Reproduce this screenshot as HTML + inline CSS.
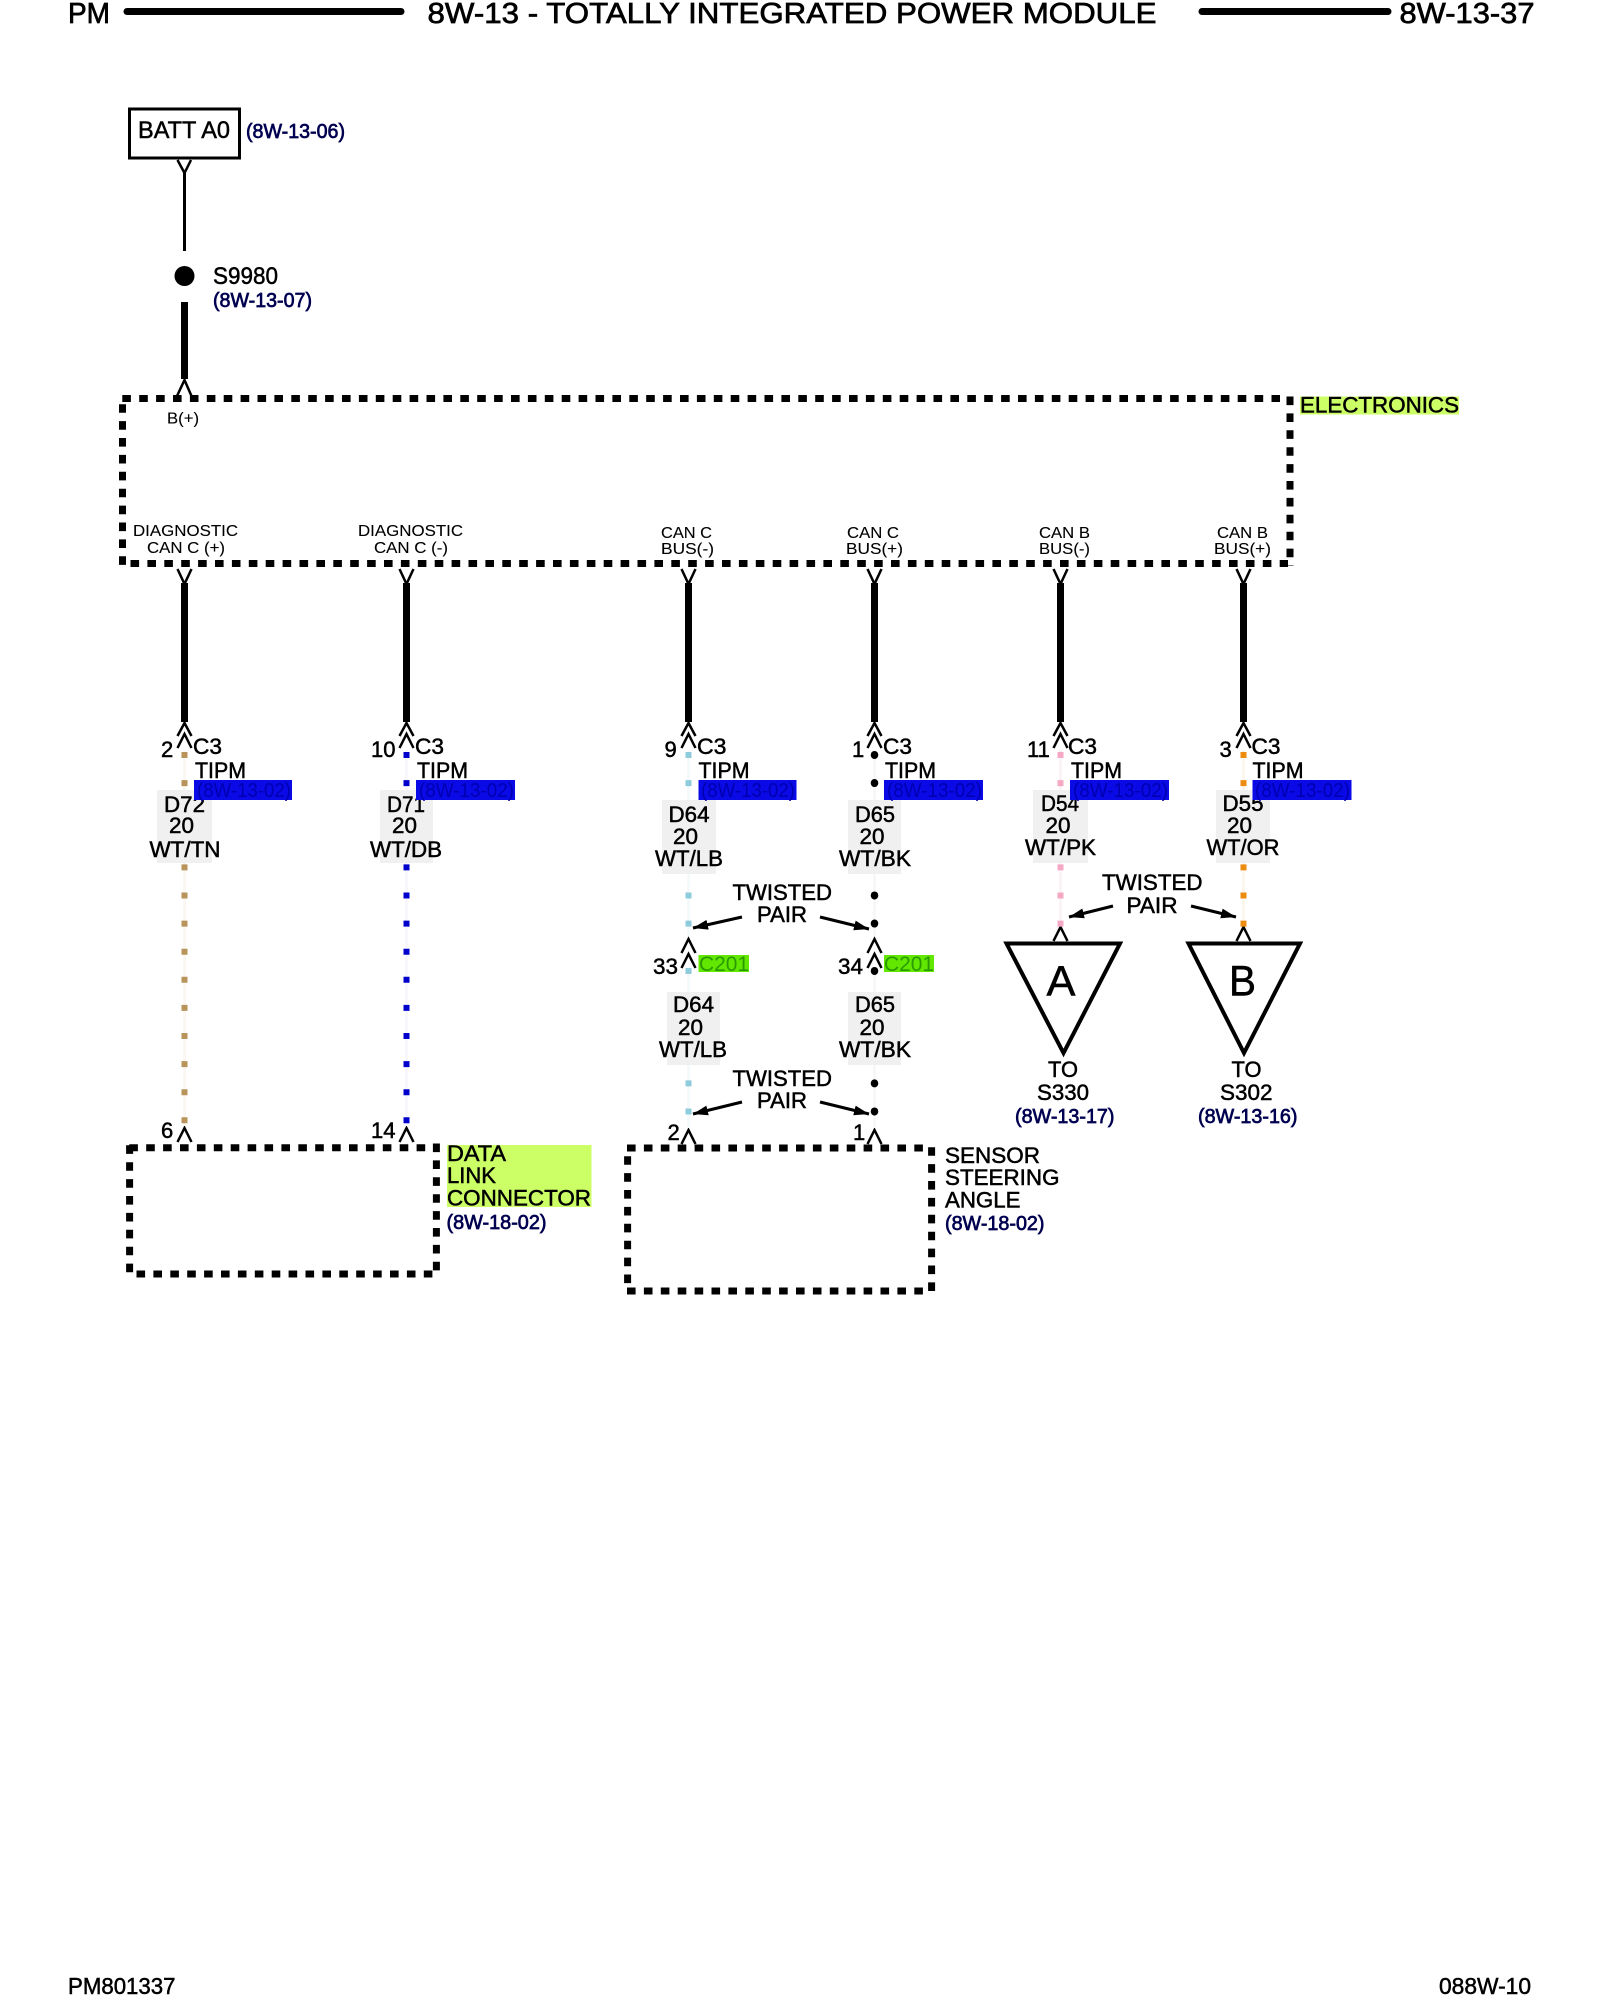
<!DOCTYPE html>
<html><head><meta charset="utf-8"><title>8W-13-37</title>
<style>
html,body{margin:0;padding:0;background:#fff}
svg{display:block}
text{font-family:"Liberation Sans",sans-serif;font-size:22px;fill:#000;stroke:#000;stroke-width:.5}
.h{font-size:29px;stroke-width:.7}.s{font-size:16px;stroke-width:.1}.n{font-size:20px;fill:#000050;stroke:#000050;stroke-width:.7}
.b{font-size:20px;fill:#0000b0;stroke:none}.g{fill:#f0f0f0}.bl{fill:#0a0ae6}.hl{fill:#ccff66}.gr{fill:#62e800}
.c{font-size:21px;fill:#2a9a00;stroke:none}
.v{fill:none;stroke:#000;stroke-width:2.5}
.w{stroke:#000;stroke-width:7;stroke-linecap:round;fill:none}
.d{stroke:#000;stroke-width:7;stroke-dasharray:8.6 8.3;stroke-dashoffset:-.5;fill:none}
.f{stroke-width:2.5;fill:none}
.o{stroke-width:6;stroke-dasharray:6 22.1;fill:none}
.k{stroke-width:7.5;stroke-dasharray:.5 27.6;stroke-linecap:round;fill:none}
.a{stroke:#000;stroke-width:3;fill:none;marker-end:url(#ah)}
</style></head><body>
<svg width="1600" height="2000" viewBox="0 0 1600 2000" xmlns="http://www.w3.org/2000/svg">
<defs><marker id="ah" markerUnits="userSpaceOnUse" markerWidth="18" markerHeight="12" refX="15" refY="5" orient="auto"><path d="M0 0L15 5L0 10Z" fill="#000"/></marker></defs>
<rect width="1600" height="2000" fill="#fff"/>

<!-- header -->
<text class="h" x="68" y="23" textLength="42" lengthAdjust="spacingAndGlyphs">PM</text>
<path class="w" d="M127 11.5H401M1202 11.5H1388"/>
<text class="h" x="427.5" y="23" textLength="729" lengthAdjust="spacingAndGlyphs">8W-13 - TOTALLY INTEGRATED POWER MODULE</text>
<text class="h" x="1399.5" y="23" textLength="135" lengthAdjust="spacingAndGlyphs">8W-13-37</text>

<!-- battery -->
<rect x="129.5" y="109" width="110" height="49" fill="none" stroke="#000" stroke-width="3"/>
<text x="138" y="138" style="font-size:24px" textLength="92" lengthAdjust="spacingAndGlyphs">BATT A0</text>
<text class="n" x="246" y="138" textLength="99" lengthAdjust="spacingAndGlyphs">(8W-13-06)</text>
<path class="v" d="M177.5 160L184.5 173L191 160"/>
<path d="M184.5 173V251" stroke="#000" stroke-width="3" fill="none"/>
<ellipse cx="184.5" cy="276" rx="10" ry="10" fill="#000"/>
<text x="213" y="284" style="font-size:24px" textLength="65" lengthAdjust="spacingAndGlyphs">S9980</text>
<text class="n" x="213" y="307" textLength="99" lengthAdjust="spacingAndGlyphs">(8W-13-07)</text>
<path d="M184.5 302V379" stroke="#000" stroke-width="7" fill="none"/>
<path class="v" d="M177 396L184.5 380L191.5 396"/>

<!-- electronics box -->
<path class="d" d="M121.8 398.5H1280"/>
<path class="d" d="M122.5 403.7V568"/>
<path class="d" d="M130 563.5H1288"/>
<path class="d" d="M1290 396V566"/>
<rect class="hl" x="1300" y="396.5" width="159" height="18"/>
<text x="1300" y="412.5" textLength="159" lengthAdjust="spacingAndGlyphs">ELECTRONICS</text>
<text class="s" x="167" y="423.5" textLength="32" lengthAdjust="spacingAndGlyphs">B(+)</text>
<text class="s" x="133" y="536" textLength="105" lengthAdjust="spacingAndGlyphs">DIAGNOSTIC</text>
<text class="s" x="147" y="553" textLength="78" lengthAdjust="spacingAndGlyphs">CAN C (+)</text>
<text class="s" x="358" y="536" textLength="105" lengthAdjust="spacingAndGlyphs">DIAGNOSTIC</text>
<text class="s" x="374" y="553" textLength="74" lengthAdjust="spacingAndGlyphs">CAN C (-)</text>
<text class="s" x="661" y="538" textLength="51" lengthAdjust="spacingAndGlyphs">CAN C</text>
<text class="s" x="661" y="554" textLength="53" lengthAdjust="spacingAndGlyphs">BUS(-)</text>
<text class="s" x="847" y="538" textLength="52" lengthAdjust="spacingAndGlyphs">CAN C</text>
<text class="s" x="846" y="554" textLength="57" lengthAdjust="spacingAndGlyphs">BUS(+)</text>
<text class="s" x="1039" y="538" textLength="51" lengthAdjust="spacingAndGlyphs">CAN B</text>
<text class="s" x="1039" y="554" textLength="51" lengthAdjust="spacingAndGlyphs">BUS(-)</text>
<text class="s" x="1217" y="538" textLength="51" lengthAdjust="spacingAndGlyphs">CAN B</text>
<text class="s" x="1214" y="554" textLength="57" lengthAdjust="spacingAndGlyphs">BUS(+)</text>

<!-- thick wires & connectors -->
<g fill="none" stroke="#000">
<path stroke-width="7" d="M184.5 583V722M406.5 583V722M688.5 583V722M874.5 583V722M1060.5 583V722M1243.5 583V722"/>
<g stroke-width="2.5">
<path d="M177.5 569L184.5 584L191.5 569M177.5 736L184.5 723L191.5 736M177.5 748L184.5 734L191.5 748M177.5 1142L184.5 1128L191.5 1142"/>
<path d="M399.5 569L406.5 584L413.5 569M399.5 736L406.5 723L413.5 736M399.5 748L406.5 734L413.5 748M399.5 1142L406.5 1128L413.5 1142"/>
<path d="M681.5 569L688.5 584L695.5 569M681.5 736L688.5 723L695.5 736M681.5 748L688.5 734L695.5 748M681.5 953L688.5 939L695.5 953M681.5 968L688.5 954L695.5 968M681.5 1144L688.5 1130L695.5 1144"/>
<path d="M867.5 569L874.5 584L881.5 569M867.5 736L874.5 723L881.5 736M867.5 748L874.5 734L881.5 748M867.5 953L874.5 939L881.5 953M867.5 968L874.5 954L881.5 968M867.5 1144L874.5 1130L881.5 1144"/>
<path d="M1053.5 569L1060.5 584L1067.5 569M1053.5 736L1060.5 723L1067.5 736M1053.5 748L1060.5 734L1067.5 748M1053.5 941L1060.5 927L1067.5 941"/>
<path d="M1236.5 569L1243.5 584L1250.5 569M1236.5 736L1243.5 723L1250.5 736M1236.5 748L1243.5 734L1250.5 748M1236.5 941L1243.5 927L1250.5 941"/>
</g></g>

<!-- faint wires -->
<path class="f" stroke="#faf6f0" d="M184.5 750V1126"/>
<path class="f" stroke="#f6f6fc" d="M406.5 750V1126"/>
<path class="f" stroke="#f3f8fa" d="M688.5 750V936M688.5 968V1128"/>
<path class="f" stroke="#f6f6f6" d="M874.5 750V936M874.5 968V1128"/>
<path class="f" stroke="#fcf2f5" d="M1060.5 750V926"/>
<path class="f" stroke="#fcf5ea" d="M1243.5 750V926"/>
<!-- dots -->
<path class="o" stroke="#b8935a" d="M184.5 752V1126"/>
<path class="o" stroke="#0000cc" d="M406.5 752V1126"/>
<path class="o" stroke="#8ecbdc" d="M688.5 752V928M688.5 968V1116"/>
<path class="k" stroke="#000" d="M874.5 754.7V928M874.5 970.7V1116"/>
<path class="o" stroke="#f4a8c4" d="M1060.5 752V928"/>
<path class="o" stroke="#ee8c10" d="M1243.5 752V928"/>

<!-- gray label backgrounds -->
<rect class="g" x="157" y="790" width="55" height="73"/>
<rect class="g" x="380" y="790" width="53" height="73"/>
<rect class="g" x="662" y="800" width="54" height="74"/>
<rect class="g" x="848" y="800" width="53" height="74"/>
<rect class="g" x="1033" y="790" width="55" height="73"/>
<rect class="g" x="1216" y="790" width="54" height="73"/>
<rect class="g" x="667" y="992" width="53" height="73"/>
<rect class="g" x="848" y="992" width="53" height="73"/>

<!-- column 1 -->
<text x="161" y="757">2</text>
<text x="193" y="754" textLength="29" lengthAdjust="spacingAndGlyphs">C3</text>
<text x="195" y="778" textLength="51" lengthAdjust="spacingAndGlyphs">TIPM</text>
<text x="164" y="812" textLength="41" lengthAdjust="spacingAndGlyphs">D72</text>
<text x="169" y="833" textLength="25" lengthAdjust="spacingAndGlyphs">20</text>
<text x="149.5" y="857" textLength="71" lengthAdjust="spacingAndGlyphs">WT/TN</text>
<text x="161" y="1138">6</text>
<!-- column 2 -->
<text x="371" y="757">10</text>
<text x="415" y="754" textLength="29" lengthAdjust="spacingAndGlyphs">C3</text>
<text x="417" y="778" textLength="51" lengthAdjust="spacingAndGlyphs">TIPM</text>
<text x="387" y="812" textLength="38" lengthAdjust="spacingAndGlyphs">D71</text>
<text x="392" y="833" textLength="25" lengthAdjust="spacingAndGlyphs">20</text>
<text x="370" y="857" textLength="72" lengthAdjust="spacingAndGlyphs">WT/DB</text>
<text x="371" y="1138">14</text>
<!-- column 3 -->
<text x="664.5" y="757">9</text>
<text x="697" y="754" textLength="29.5" lengthAdjust="spacingAndGlyphs">C3</text>
<text x="698.5" y="778" textLength="51" lengthAdjust="spacingAndGlyphs">TIPM</text>
<text x="668.5" y="822" textLength="41" lengthAdjust="spacingAndGlyphs">D64</text>
<text x="673" y="844" textLength="25" lengthAdjust="spacingAndGlyphs">20</text>
<text x="655" y="866" textLength="68" lengthAdjust="spacingAndGlyphs">WT/LB</text>
<text x="653" y="974" textLength="25" lengthAdjust="spacingAndGlyphs">33</text>
<rect class="gr" x="698.5" y="955" width="50.5" height="17"/>
<text class="c" x="699" y="971" textLength="50" lengthAdjust="spacingAndGlyphs">C201</text>
<text x="673" y="1012" textLength="41" lengthAdjust="spacingAndGlyphs">D64</text>
<text x="678" y="1035" textLength="25" lengthAdjust="spacingAndGlyphs">20</text>
<text x="659" y="1057" textLength="68" lengthAdjust="spacingAndGlyphs">WT/LB</text>
<text x="667.5" y="1140">2</text>
<!-- column 4 -->
<text x="852" y="757">1</text>
<text x="883" y="754" textLength="29" lengthAdjust="spacingAndGlyphs">C3</text>
<text x="885" y="778" textLength="51" lengthAdjust="spacingAndGlyphs">TIPM</text>
<text x="855" y="822" textLength="40" lengthAdjust="spacingAndGlyphs">D65</text>
<text x="859.5" y="844" textLength="25" lengthAdjust="spacingAndGlyphs">20</text>
<text x="839" y="866" textLength="72" lengthAdjust="spacingAndGlyphs">WT/BK</text>
<text x="838" y="974" textLength="25" lengthAdjust="spacingAndGlyphs">34</text>
<rect class="gr" x="884" y="955" width="50" height="17"/>
<text class="c" x="884" y="971" textLength="50" lengthAdjust="spacingAndGlyphs">C201</text>
<text x="855" y="1012" textLength="40" lengthAdjust="spacingAndGlyphs">D65</text>
<text x="859.5" y="1035" textLength="25" lengthAdjust="spacingAndGlyphs">20</text>
<text x="839" y="1057" textLength="72" lengthAdjust="spacingAndGlyphs">WT/BK</text>
<text x="853" y="1140">1</text>
<!-- column 5 -->
<text x="1027" y="757">11</text>
<text x="1068" y="754" textLength="29" lengthAdjust="spacingAndGlyphs">C3</text>
<text x="1071" y="778" textLength="51" lengthAdjust="spacingAndGlyphs">TIPM</text>
<text x="1041" y="811" textLength="38" lengthAdjust="spacingAndGlyphs">D54</text>
<text x="1045.5" y="833" textLength="25" lengthAdjust="spacingAndGlyphs">20</text>
<text x="1025" y="855" textLength="71" lengthAdjust="spacingAndGlyphs">WT/PK</text>
<!-- column 6 -->
<text x="1219.5" y="757">3</text>
<text x="1251.5" y="754" textLength="29" lengthAdjust="spacingAndGlyphs">C3</text>
<text x="1252.5" y="778" textLength="51" lengthAdjust="spacingAndGlyphs">TIPM</text>
<text x="1222.5" y="811" textLength="41" lengthAdjust="spacingAndGlyphs">D55</text>
<text x="1227" y="833" textLength="25" lengthAdjust="spacingAndGlyphs">20</text>
<text x="1206.5" y="855" textLength="73" lengthAdjust="spacingAndGlyphs">WT/OR</text>

<!-- blue highlighted references -->
<rect class="bl" x="194" y="780" width="98" height="20"/>
<text class="b" x="197" y="797" textLength="94" lengthAdjust="spacingAndGlyphs">(8W-13-02)</text>
<rect class="bl" x="416" y="780" width="99" height="20"/>
<text class="b" x="419" y="797" textLength="95" lengthAdjust="spacingAndGlyphs">(8W-13-02)</text>
<rect class="bl" x="698.5" y="780" width="98" height="20"/>
<text class="b" x="701" y="797" textLength="94" lengthAdjust="spacingAndGlyphs">(8W-13-02)</text>
<rect class="bl" x="884" y="780" width="99" height="20"/>
<text class="b" x="887" y="797" textLength="95" lengthAdjust="spacingAndGlyphs">(8W-13-02)</text>
<rect class="bl" x="1070" y="780" width="99" height="20"/>
<text class="b" x="1073" y="797" textLength="95" lengthAdjust="spacingAndGlyphs">(8W-13-02)</text>
<rect class="bl" x="1252.5" y="780" width="99" height="20"/>
<text class="b" x="1255" y="797" textLength="95" lengthAdjust="spacingAndGlyphs">(8W-13-02)</text>

<!-- twisted pairs -->
<text x="732.5" y="900" textLength="99.5" lengthAdjust="spacingAndGlyphs">TWISTED</text>
<text x="757" y="922" textLength="50" lengthAdjust="spacingAndGlyphs">PAIR</text>
<path class="a" d="M742 917L693 928"/><path class="a" d="M820 917L869 929"/>
<text x="732.5" y="1086" textLength="99.5" lengthAdjust="spacingAndGlyphs">TWISTED</text>
<text x="757" y="1108" textLength="50" lengthAdjust="spacingAndGlyphs">PAIR</text>
<path class="a" d="M742 1102L693 1114"/><path class="a" d="M820 1102L869 1114"/>
<text x="1102" y="890" textLength="100.5" lengthAdjust="spacingAndGlyphs">TWISTED</text>
<text x="1126.5" y="913" textLength="51" lengthAdjust="spacingAndGlyphs">PAIR</text>
<path class="a" d="M1113 906L1069 917"/><path class="a" d="M1191 906L1236 917"/>

<!-- triangles -->
<path d="M1006.5 943.5H1120L1063.5 1053Z" fill="#fff" stroke="#000" stroke-width="4"/>
<path d="M1188.5 943.5H1300L1244 1053Z" fill="#fff" stroke="#000" stroke-width="4"/>
<text x="1046.5" y="995.5" style="font-size:43px" textLength="29" lengthAdjust="spacingAndGlyphs">A</text>
<text x="1229" y="995.5" style="font-size:43px" textLength="27" lengthAdjust="spacingAndGlyphs">B</text>
<text x="1048" y="1077" textLength="30" lengthAdjust="spacingAndGlyphs">TO</text>
<text x="1037" y="1100" textLength="52" lengthAdjust="spacingAndGlyphs">S330</text>
<text class="n" x="1015" y="1123" textLength="99.5" lengthAdjust="spacingAndGlyphs">(8W-13-17)</text>
<text x="1231.5" y="1077" textLength="30" lengthAdjust="spacingAndGlyphs">TO</text>
<text x="1220" y="1100" textLength="52.5" lengthAdjust="spacingAndGlyphs">S302</text>
<text class="n" x="1198" y="1123" textLength="99.5" lengthAdjust="spacingAndGlyphs">(8W-13-16)</text>

<!-- data link connector box -->
<path class="d" d="M128.8 1147.7H426"/>
<path class="d" d="M129.6 1144.8V1276"/>
<path class="d" d="M136 1274H434"/>
<path class="d" d="M436.4 1143V1274"/>
<rect class="hl" x="447" y="1145" width="144.5" height="62"/>
<text x="447" y="1161" textLength="59" lengthAdjust="spacingAndGlyphs">DATA</text>
<text x="447" y="1183" textLength="49" lengthAdjust="spacingAndGlyphs">LINK</text>
<text x="447" y="1205.5" textLength="144" lengthAdjust="spacingAndGlyphs">CONNECTOR</text>
<text class="n" x="446.5" y="1229" textLength="100" lengthAdjust="spacingAndGlyphs">(8W-18-02)</text>

<!-- sensor box -->
<path class="d" d="M626.5 1148H924"/>
<path class="d" d="M627.6 1155.7V1284"/>
<path class="d" d="M626.5 1291H925"/>
<path class="d" d="M931.6 1146.7V1294"/>
<text x="945" y="1163" textLength="95" lengthAdjust="spacingAndGlyphs">SENSOR</text>
<text x="945" y="1185" textLength="114.5" lengthAdjust="spacingAndGlyphs">STEERING</text>
<text x="945" y="1207.5" textLength="75.5" lengthAdjust="spacingAndGlyphs">ANGLE</text>
<text class="n" x="945" y="1230" textLength="99.5" lengthAdjust="spacingAndGlyphs">(8W-18-02)</text>

<!-- footer -->
<text x="68" y="1994" style="font-size:23px" textLength="107.5" lengthAdjust="spacingAndGlyphs">PM801337</text>
<text x="1439" y="1994" style="font-size:23px" textLength="92" lengthAdjust="spacingAndGlyphs">088W-10</text>
</svg>
</body></html>
